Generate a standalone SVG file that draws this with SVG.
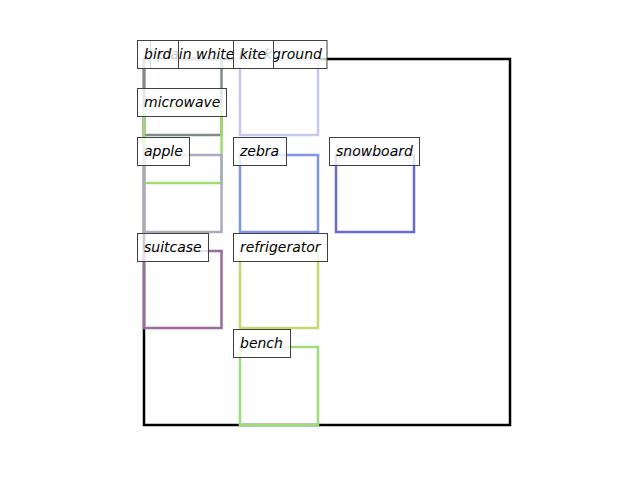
<svg xmlns="http://www.w3.org/2000/svg" width="640" height="480" viewBox="0 0 640 480">
<style>
.box{fill:none;stroke-width:2.5}
.lbl rect{fill:#ffffff;fill-opacity:0.8;stroke:#3f3f3f;stroke-width:1}
.lbl text{font-family:"DejaVu Sans",sans-serif;font-style:oblique;font-size:14px;fill:#000}
</style>
<rect width="640" height="480" fill="#ffffff"/>
<g id="boxes">
<rect id="box-background" class="box" x="144" y="59" width="366" height="366" stroke="#000000"/>
<rect id="box-bird" class="box" x="144" y="59" width="77.5" height="76" stroke="#7f8c8d"/>
<rect id="box-microwave" class="box" x="144" y="107" width="77.5" height="76" stroke="#a0dc6c"/>
<rect id="box-apple" class="box" x="144" y="155" width="77.5" height="77" stroke="#aaaac0"/>
<rect id="box-kite" class="box" x="240" y="59" width="78" height="76" stroke="#c5c8f2"/>
<rect id="box-zebra" class="box" x="240" y="155" width="78" height="77" stroke="#7f96e6"/>
<rect id="box-snowboard" class="box" x="336" y="155" width="78" height="77" stroke="#6a6acc"/>
<rect id="box-suitcase" class="box" x="144" y="251" width="77.5" height="77" stroke="#9a6a9e"/>
<rect id="box-refrigerator" class="box" x="240" y="251" width="78" height="77" stroke="#c3d96a"/>
<rect id="box-bench" class="box" x="240" y="347" width="78" height="78" stroke="#9cdc7c"/>
</g>
<g id="connectors"></g>
<g id="plain-white-background" class="lbl"><rect x="150.5" y="40.5" width="176.5" height="28"/><text x="157.5" y="59">plain white background</text></g>
<g id="bird" class="lbl"><rect x="137.5" y="40.5" width="41" height="28"/><text x="144" y="59">bird</text></g>
<g id="microwave" class="lbl"><rect x="137.5" y="88.5" width="89" height="28"/><text x="144" y="107">microwave</text></g>
<g id="kite" class="lbl"><rect x="233.5" y="40.5" width="40" height="28"/><text x="240" y="59">kite</text></g>
<g id="apple" class="lbl"><rect x="137.5" y="137.5" width="52" height="28"/><text x="144" y="156">apple</text></g>
<g id="zebra" class="lbl"><rect x="233.5" y="137.5" width="53" height="28"/><text x="240" y="156">zebra</text></g>
<g id="snowboard" class="lbl"><rect x="329.5" y="137.5" width="90" height="28"/><text x="336" y="156">snowboard</text></g>
<g id="suitcase" class="lbl"><rect x="137.5" y="233.5" width="71" height="28"/><text x="144" y="252">suitcase</text></g>
<g id="refrigerator" class="lbl"><rect x="233.5" y="233.5" width="94" height="28"/><text x="240" y="252">refrigerator</text></g>
<g id="bench" class="lbl"><rect x="233.5" y="329.5" width="57" height="28"/><text x="240" y="348">bench</text></g>
</svg>
